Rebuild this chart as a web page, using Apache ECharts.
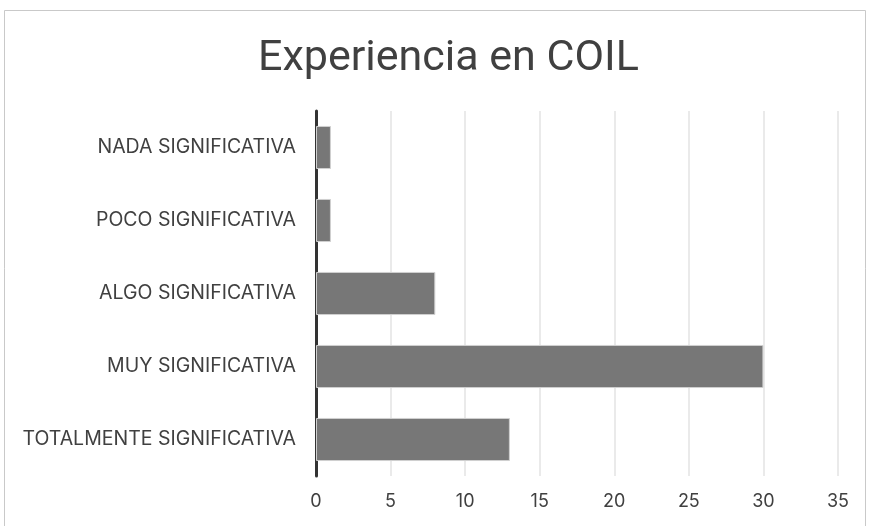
<!DOCTYPE html>
<html>
<head>
<meta charset="utf-8">
<script src="https://cdn.jsdelivr.net/npm/echarts@6/dist/echarts.min.js"></script>
<style>
  html, body { margin: 0; padding: 0; background: #fff; }
  #chart { width: 869px; height: 526px; }
</style>
</head>
<body>
<div id="chart"></div>
<script>
// categories listed bottom -> top (ECharts category y axis starts at the bottom)
var categories = [
  "TOTALMENTE SIGNIFICATIVA",
  "MUY SIGNIFICATIVA",
  "ALGO SIGNIFICATIVA",
  "POCO SIGNIFICATIVA",
  "NADA SIGNIFICATIVA"
];
var counts = [13, 30, 8, 1, 1];
var xMax = 35;
var xStep = 5;

var chart = echarts.init(document.getElementById("chart"));

var option = {
  backgroundColor: "#fff",
  animation: false,
  textStyle: { fontFamily: "Inter" },
  graphic: [
    {
      type: "rect",
      shape: { x: 4.5, y: 10.5, width: 861, height: 530 },
      style: { fill: "none", stroke: "#c9c9c9", lineWidth: 1 },
      silent: true
    }
  ],
  title: {
    text: "Experiencia en COIL",
    left: 253,
    top: 33,
    textStyle: {
      fontFamily: "Roboto",
      fontSize: 43,
      fontWeight: "normal",
      color: "#404040"
    }
  },
  grid: {
    left: 316,
    right: 31,
    top: 111,
    bottom: 50
  },
  xAxis: {
    type: "value",
    min: 0,
    max: xMax,
    interval: xStep,
    axisLine: { show: false },
    axisTick: { show: false },
    splitLine: { lineStyle: { color: "#e3e3e3", width: 1.5 } },
    axisLabel: { color: "#404040", fontSize: 18, margin: 17, fontFamily: "Inter" }
  },
  yAxis: {
    type: "category",
    data: categories,
    axisLine: { lineStyle: { color: "#333", width: 3 } },
    axisTick: { show: false },
    axisLabel: { color: "#404040", fontSize: 19.5, margin: 20, fontFamily: "Inter" }
  },
  series: [
    {
      type: "bar",
      data: counts,
      barCategoryGap: "41%",
      itemStyle: {
        color: "#777777",
        borderColor: "#d0d0d0",
        borderWidth: 1
      }
    }
  ]
};

chart.setOption(option);
</script>
</body>
</html>
